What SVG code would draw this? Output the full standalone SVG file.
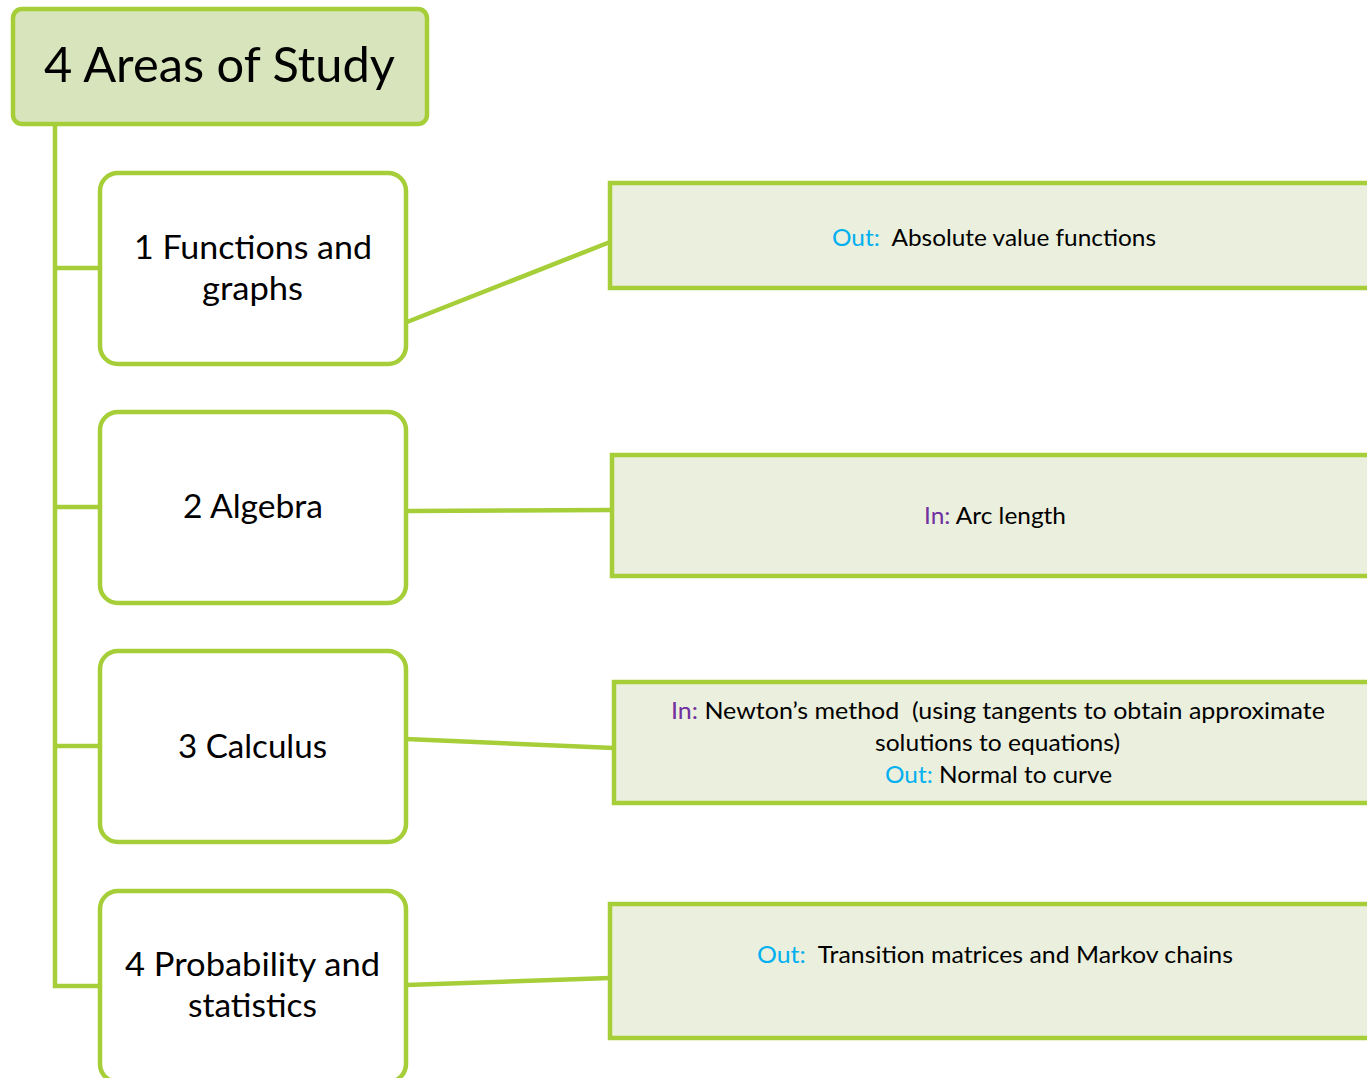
<svg xmlns="http://www.w3.org/2000/svg" width="1367" height="1078" viewBox="0 0 1367 1078">
<style>
.ln{stroke:#a6ce39;stroke-width:4.5;fill:none;stroke-linecap:butt;stroke-linejoin:miter}
.node{fill:#ffffff;stroke:#a6ce39;stroke-width:4.5}
.title{fill:#d8e4bc;stroke:#a6ce39;stroke-width:4.5}
.box{fill:#ebefdd;stroke:#a6ce39;stroke-width:4.5}
text{font-family:Lato,"Open Sans","Liberation Sans",sans-serif;fill:#000}
.t1{font-size:48px}
.t2{font-size:33px}
.t3{font-size:23px}
.out{fill:#00b0f0}
.in{fill:#7030a0}
</style>
<rect width="1367" height="1078" fill="#ffffff"/>
<g id="connectors">
<path class="ln" d="M55 124 V986 H100 M55 268 H100 M55 507 H100 M55 746 H100"/>
<line class="ln" x1="402" y1="324" x2="610" y2="242"/>
<line class="ln" x1="406" y1="511" x2="612" y2="510"/>
<line class="ln" x1="406" y1="739" x2="614" y2="748"/>
<line class="ln" x1="406" y1="985" x2="610" y2="978"/>
</g>
<g id="title">
<rect class="title" x="13" y="9" width="414" height="115" rx="9"/>
<text class="t1" x="44" y="82" textLength="351" lengthAdjust="spacingAndGlyphs">4 Areas of Study</text>
</g>
<g id="node1">
<rect class="node" x="100" y="173" width="306" height="191" rx="18"/>
<text class="t2" x="134" y="259" textLength="238" lengthAdjust="spacingAndGlyphs">1 Functions and</text>
<text class="t2" x="202" y="300" textLength="101" lengthAdjust="spacingAndGlyphs">graphs</text>
</g>
<g id="node2">
<rect class="node" x="100" y="412" width="306" height="191" rx="18"/>
<text class="t2" x="183" y="518" textLength="140" lengthAdjust="spacingAndGlyphs">2 Algebra</text>
</g>
<g id="node3">
<rect class="node" x="100" y="651" width="306" height="191" rx="18"/>
<text class="t2" x="178" y="758" textLength="149" lengthAdjust="spacingAndGlyphs">3 Calculus</text>
</g>
<g id="node4">
<rect class="node" x="100" y="891" width="306" height="191" rx="18"/>
<text class="t2" x="125" y="976" textLength="255" lengthAdjust="spacingAndGlyphs">4 Probability and</text>
<text class="t2" x="188" y="1017" textLength="129" lengthAdjust="spacingAndGlyphs">statistics</text>
</g>
<g id="box1">
<rect class="box" x="610" y="183" width="780" height="105"/>
<text class="t3" x="832" y="246" textLength="324" lengthAdjust="spacingAndGlyphs" xml:space="preserve"><tspan class="out">Out:</tspan>  Absolute value functions</text>
</g>
<g id="box2">
<rect class="box" x="612" y="455" width="780" height="121"/>
<text class="t3" x="924" y="524" textLength="142" lengthAdjust="spacingAndGlyphs"><tspan class="in">In:</tspan> Arc length</text>
</g>
<g id="box3">
<rect class="box" x="614" y="682" width="780" height="121"/>
<text class="t3" x="671" y="719" textLength="654" lengthAdjust="spacingAndGlyphs" xml:space="preserve"><tspan class="in">In:</tspan> Newton’s method  (using tangents to obtain approximate</text>
<text class="t3" x="875" y="751" textLength="245" lengthAdjust="spacingAndGlyphs">solutions to equations)</text>
<text class="t3" x="885" y="783" textLength="227" lengthAdjust="spacingAndGlyphs"><tspan class="out">Out:</tspan> Normal to curve</text>
</g>
<g id="box4">
<rect class="box" x="610" y="904" width="780" height="134"/>
<text class="t3" x="757" y="963" textLength="476" lengthAdjust="spacingAndGlyphs" xml:space="preserve"><tspan class="out">Out:</tspan>  Transition matrices and Markov chains</text>
</g>
</svg>
